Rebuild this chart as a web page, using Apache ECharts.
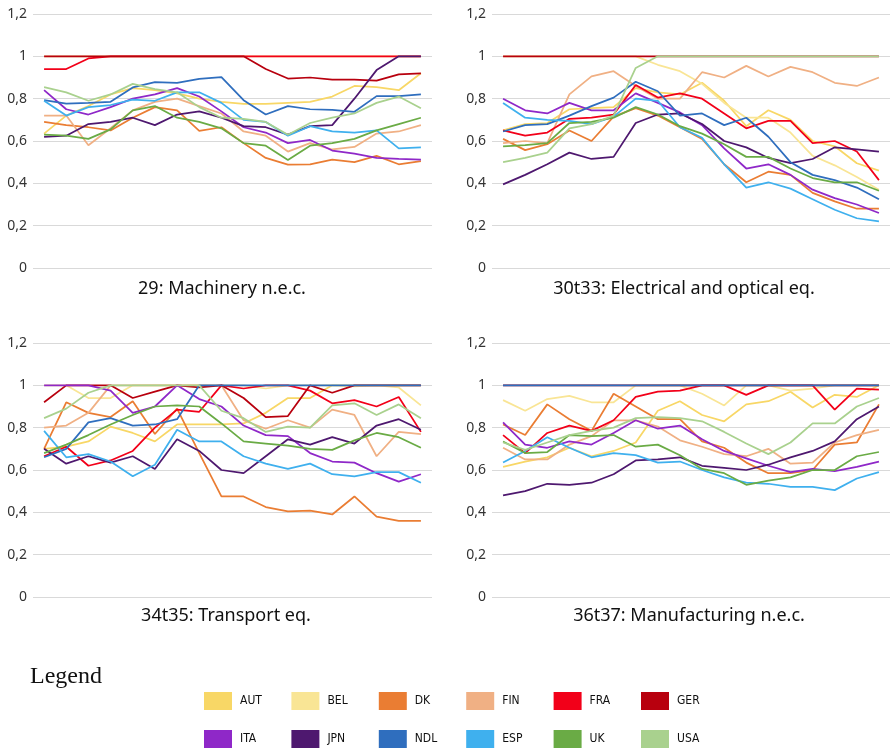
<!DOCTYPE html>
<html>
<head>
<meta charset="utf-8">
<script src="https://cdn.jsdelivr.net/npm/echarts@6/dist/echarts.min.js"></script>
<style>
  html, body { margin: 0; padding: 0; background: #fff; }
  #main { width: 890px; height: 752px; }
</style>
</head>
<body>
<div id="main"></div>
<script>
// years on the x axis (labels are not shown in the picture)
const categories = ['1995','1996','1997','1998','1999','2000','2001','2002','2003',
  '2004','2005','2006','2007','2008','2009','2010','2011','2012'];
const countries = ['AUT','BEL','DK','FIN','FRA','GER','ITA','JPN','NDL','ESP','UK','USA'];
const colors = ['#f8d766','#f9e595','#ea7d33','#f0b084','#f20019','#b8000e',
  '#8f28c8','#4e186f','#2f6ebe','#3fb0ee','#6aab45','#a9d18e'];
const yTicks = [0, 0.2, 0.4, 0.6, 0.8, 1, 1.2];
const panelTitles = ['29: Machinery n.e.c.', '30t33: Electrical and optical eq.',
  '34t35: Transport eq.', '36t37: Manufacturing n.e.c.'];

const ONE = new Array(18).fill(1);

// 29: Machinery n.e.c. (rows follow "countries")
const machinery = [
  [0.635,0.72,0.765,0.82,0.85,0.84,0.825,0.80,0.785,0.775,0.775,0.78,0.785,0.81,0.86,0.855,0.84,0.92],
  ONE,
  [0.69,0.675,0.665,0.65,0.71,0.76,0.745,0.648,0.665,0.59,0.52,0.488,0.49,0.512,0.50,0.53,0.49,0.505],
  [0.72,0.72,0.58,0.66,0.745,0.785,0.80,0.765,0.73,0.645,0.625,0.55,0.59,0.56,0.572,0.635,0.645,0.675],
  [0.94,0.94,0.99,1,1,1,1,1,1,1,1,1,1,1,1,1,1,1],
  [1,1,1,1,1,1,1,1,1,1,0.94,0.895,0.90,0.89,0.89,0.885,0.915,0.92],
  [0.84,0.75,0.725,0.76,0.80,0.82,0.85,0.81,0.74,0.665,0.64,0.59,0.605,0.555,0.54,0.52,0.515,0.512],
  [0.62,0.625,0.68,0.69,0.71,0.675,0.725,0.74,0.71,0.67,0.665,0.63,0.67,0.675,0.80,0.935,1,1],
  [0.793,0.777,0.78,0.785,0.853,0.878,0.875,0.894,0.902,0.793,0.725,0.765,0.75,0.747,0.738,0.812,0.812,0.82],
  [0.79,0.72,0.76,0.77,0.795,0.79,0.83,0.83,0.78,0.70,0.69,0.625,0.67,0.645,0.64,0.65,0.565,0.57],
  [0.63,0.625,0.61,0.655,0.745,0.765,0.71,0.69,0.66,0.59,0.578,0.51,0.578,0.59,0.61,0.65,0.68,0.71],
  [0.855,0.83,0.79,0.82,0.87,0.845,0.83,0.76,0.71,0.705,0.69,0.63,0.685,0.71,0.73,0.78,0.81,0.755]
];

// 30t33: Electrical and optical eq.
const electrical = [
  [0.65,0.68,0.685,0.75,0.755,0.76,0.85,0.83,0.82,0.875,0.79,0.67,0.745,0.70,0.60,0.575,0.495,0.46],
  [1,1,1,1,1,1,1,0.96,0.93,0.87,0.78,0.71,0.71,0.64,0.53,0.485,0.43,0.37],
  [0.61,0.557,0.585,0.65,0.60,0.715,0.755,0.72,0.665,0.61,0.49,0.405,0.455,0.44,0.355,0.315,0.28,0.28],
  [0.59,0.60,0.59,0.82,0.905,0.93,0.86,0.80,0.80,0.925,0.90,0.955,0.905,0.95,0.925,0.875,0.86,0.90],
  [0.65,0.625,0.64,0.705,0.71,0.725,0.865,0.805,0.825,0.80,0.73,0.66,0.695,0.695,0.59,0.60,0.55,0.415],
  ONE,
  [0.80,0.745,0.73,0.78,0.745,0.745,0.825,0.78,0.735,0.675,0.565,0.47,0.49,0.44,0.37,0.33,0.30,0.26],
  [0.395,0.44,0.49,0.545,0.515,0.525,0.685,0.725,0.73,0.68,0.60,0.57,0.52,0.495,0.515,0.57,0.56,0.55],
  [0.645,0.675,0.68,0.72,0.765,0.805,0.88,0.835,0.72,0.73,0.675,0.71,0.62,0.50,0.44,0.415,0.38,0.325],
  [0.78,0.71,0.70,0.695,0.68,0.715,0.80,0.79,0.665,0.615,0.49,0.38,0.405,0.375,0.325,0.275,0.235,0.22],
  [0.575,0.58,0.59,0.685,0.69,0.71,0.76,0.725,0.67,0.635,0.585,0.525,0.525,0.47,0.425,0.405,0.405,0.365],
  [0.50,0.52,0.545,0.66,0.68,0.72,0.945,1,1,1,1,1,1,1,1,1,1,1]
];

// 34t35: Transport eq.
const transport = [
  [0.70,0.71,0.735,0.805,0.775,0.735,0.815,0.815,0.815,0.82,0.87,0.94,0.94,1,1,1,1,1],
  [1,1,0.94,0.94,1,1,1,1,1,1,0.985,1,1,1,0.995,1,0.99,0.905],
  [0.70,0.92,0.87,0.85,0.925,0.77,0.89,0.68,0.475,0.475,0.425,0.405,0.408,0.39,0.475,0.38,0.36,0.36],
  [0.80,0.81,0.87,1,1,1,1,1,1,0.835,0.795,0.835,0.80,0.885,0.86,0.665,0.78,0.77],
  [0.665,0.71,0.62,0.645,0.69,0.80,0.885,0.875,1,0.985,1,1,0.975,0.915,0.93,0.90,0.945,0.78],
  [0.92,1,1,1,0.94,0.97,1,0.99,1,0.94,0.85,0.855,1,0.965,1,1,1,1],
  [1,1,1,0.975,0.87,0.90,1,0.935,0.90,0.81,0.765,0.76,0.68,0.64,0.635,0.585,0.545,0.58],
  [0.70,0.63,0.665,0.635,0.665,0.605,0.745,0.69,0.60,0.585,0.665,0.745,0.72,0.755,0.725,0.81,0.84,0.79],
  [0.66,0.70,0.825,0.845,0.81,0.815,0.84,1,1,1,1,1,1,1,1,1,1,1],
  [0.785,0.66,0.675,0.64,0.57,0.625,0.79,0.735,0.735,0.665,0.63,0.605,0.63,0.58,0.57,0.59,0.59,0.54],
  [0.68,0.72,0.765,0.815,0.86,0.90,0.905,0.90,0.82,0.735,0.725,0.715,0.70,0.695,0.74,0.775,0.755,0.705],
  [0.845,0.89,0.965,1,1,1,1,1,0.88,0.845,0.78,0.805,0.80,0.905,0.915,0.86,0.91,0.845]
];

// 36t37: Manufacturing n.e.c.
const manufacturing = [
  [0.615,0.64,0.66,0.705,0.665,0.69,0.73,0.88,0.925,0.86,0.83,0.91,0.925,0.97,0.895,0.955,0.945,1],
  [0.93,0.88,0.935,0.95,0.92,0.92,1,1,1,0.96,0.905,1,1,0.975,0.985,1,1,1],
  [0.815,0.765,0.91,0.84,0.785,0.96,0.90,0.84,0.84,0.735,0.705,0.635,0.585,0.585,0.60,0.72,0.73,0.91],
  [0.705,0.65,0.65,0.72,0.76,0.835,0.835,0.805,0.74,0.71,0.675,0.665,0.70,0.63,0.635,0.73,0.765,0.79],
  [0.765,0.68,0.775,0.81,0.785,0.835,0.945,0.97,0.975,1,1,0.955,1,1,1,0.885,0.985,0.98],
  ONE,
  [0.825,0.72,0.705,0.735,0.72,0.775,0.835,0.795,0.81,0.745,0.69,0.655,0.62,0.59,0.605,0.595,0.615,0.64],
  [0.48,0.50,0.535,0.53,0.54,0.58,0.645,0.65,0.66,0.62,0.61,0.60,0.625,0.66,0.69,0.735,0.84,0.90],
  ONE,
  [0.635,0.69,0.755,0.705,0.66,0.68,0.67,0.635,0.64,0.60,0.565,0.54,0.535,0.52,0.52,0.505,0.56,0.59],
  [0.735,0.68,0.685,0.765,0.76,0.765,0.71,0.72,0.67,0.605,0.585,0.53,0.55,0.565,0.60,0.60,0.665,0.685],
  [0.73,0.695,0.73,0.765,0.785,0.80,0.845,0.85,0.845,0.83,0.78,0.725,0.675,0.73,0.82,0.82,0.90,0.94]
];

const panels = [machinery, electrical, transport, manufacturing];

const chart = echarts.init(document.getElementById('main'));
const sansFont = '"Noto Sans", "Open Sans", sans-serif';

// plot boxes and title centres
const grids = [
  { left: 33, top: 14, width: 399, height: 254 },
  { left: 492, top: 14, width: 399, height: 254 },
  { left: 33, top: 343, width: 399, height: 254 },
  { left: 492, top: 343, width: 399, height: 254 }
];
const titlePos = [[222, 289], [684, 289], [226, 616], [689, 616]];

const fmt = v => String(+v.toFixed(1)).replace('.', ',');

let xAxes = [], yAxes = [], series = [];
grids.forEach((g, p) => {
  xAxes.push({
    gridIndex: p, type: 'category', data: categories, boundaryGap: true,
    axisLine: { show: false }, axisTick: { show: false }, axisLabel: { show: false }
  });
  yAxes.push({
    gridIndex: p, type: 'value', min: yTicks[0], max: yTicks[yTicks.length - 1], interval: 0.2,
    axisLine: { show: false }, axisTick: { show: false },
    axisLabel: { formatter: fmt, color: '#333', fontSize: 14, fontFamily: sansFont, margin: 6 },
    splitLine: { lineStyle: { color: '#d9d9d9', width: 1 } }
  });
  countries.forEach((c, i) => {
    series.push({
      type: 'line', name: c, xAxisIndex: p, yAxisIndex: p,
      data: panels[p][i], symbol: 'none', showSymbol: false,
      lineStyle: { width: 1.75, color: colors[i] },
      itemStyle: { color: colors[i] }
    });
  });
});

// one legend box per country so they sit on an even grid
const legends = countries.map((c, i) => ({
  data: [c], icon: 'rect', itemWidth: 28, itemHeight: 18,
  left: 204 + (i % 6) * 87.4, top: i < 6 ? 692 : 730, padding: 0,
  textStyle: { fontSize: 12, color: '#111', padding: [0, 0, 0, 3],
    fontFamily: '"DejaVu Sans Condensed", "Liberation Sans Narrow", sans-serif' }
}));

const graphics = panelTitles.map((t, p) => ({
  type: 'text', x: titlePos[p][0], y: titlePos[p][1],
  style: { text: t, font: '18px ' + sansFont, fill: '#111', textAlign: 'center', textVerticalAlign: 'middle' }
}));
graphics.push({
  type: 'text', x: 30, y: 677,
  style: { text: 'Legend', font: '24px "Liberation Serif", "DejaVu Serif", serif', fill: '#111', textAlign: 'left', textVerticalAlign: 'middle' }
});

chart.setOption({
  animation: false,
  grid: grids,
  xAxis: xAxes,
  yAxis: yAxes,
  legend: legends,
  graphic: graphics,
  series: series
});
</script>
</body>
</html>
